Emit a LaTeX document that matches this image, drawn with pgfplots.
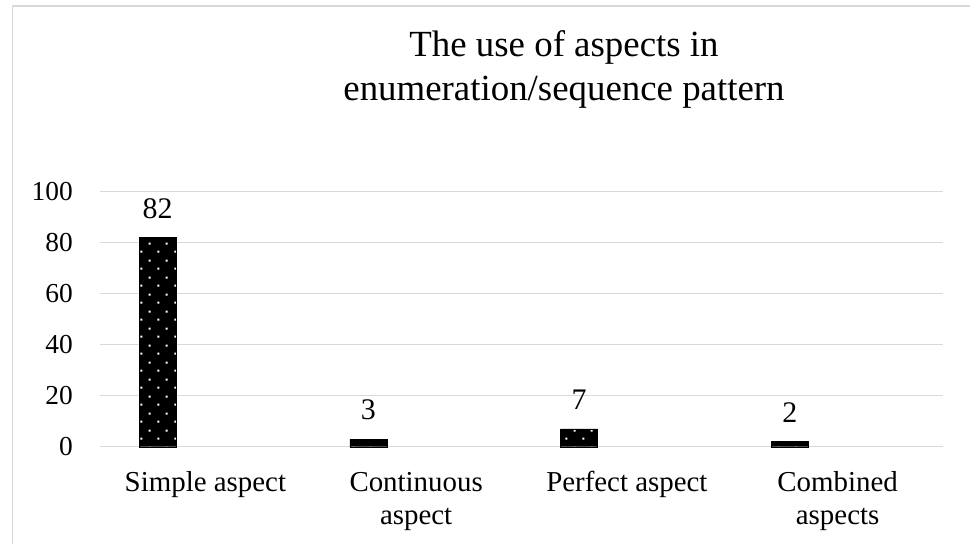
\documentclass[border=0pt]{standalone}
\usepackage{fontspec}
\setmainfont{Liberation Serif}
\usepackage{pgfplots}
\pgfplotsset{compat=1.18}
\usetikzlibrary{patterns}

\definecolor{gridgray}{HTML}{D9D9D9}

% staggered white dots on the black bars
\pgfdeclarepatternformonly{sdots}{\pgfpointorigin}{\pgfqpoint{17.3bp}{17bp}}{\pgfqpoint{17.3bp}{17bp}}{%
  \pgfpathrectangle{\pgfqpoint{2.5bp}{2.5bp}}{\pgfqpoint{2bp}{2bp}}%
  \pgfpathrectangle{\pgfqpoint{11.15bp}{11bp}}{\pgfqpoint{2bp}{2bp}}%
  \pgfusepath{fill}}

\begin{document}
\begin{tikzpicture}
\path[use as bounding box] (0,0) rectangle (970bp,544bp);
\draw[gridgray, line width=1.3bp] (12.7bp,0) -- (12.7bp,538bp) -- (970bp,538bp);

\begin{axis}[
  at={(100bp,97.3bp)}, anchor=south west, scale only axis,
  width=843bp, height=255bp,
  xmin=-0.5, xmax=3.5, ymin=0, ymax=100,
  ytick={0,20,...,100}, xtick={0,1,2,3},
  xticklabels={\strut Simple aspect, {\strut Continuous\\aspect}, \strut Perfect aspect, {\strut Combined\\aspects}},
  axis line style={draw=none}, major tick length=0pt,
  ymajorgrids, grid style={gridgray, line width=1.3bp},
  yticklabel style={font=\fontsize{27.5}{33}\selectfont, inner sep=0pt, anchor=east, xshift=-27bp},
  xticklabel style={font=\fontsize{29}{33.3}\selectfont, inner sep=0pt, align=center, anchor=north, yshift=-21bp},
  /pgf/number format/assume math mode=true,
  ybar, bar width=37bp, bar shift=-47.7bp,
  nodes near coords,
  nodes near coords style={font=\fontsize{30}{34}\selectfont, inner sep=0pt, anchor=base, yshift=19.3bp},
  clip=false,
]
\addplot[draw=black, fill=black, postaction={pattern=sdots, pattern color=white}]
  coordinates {(0,82) (1,3) (2,7) (3,2)};
\end{axis}

\node[font=\fontsize{37}{44}\selectfont, anchor=base] at (564bp,487.3bp) {The use of aspects in};
\node[font=\fontsize{37}{44}\selectfont, anchor=base] at (564bp,443.3bp) {enumeration/sequence pattern};
\end{tikzpicture}
\end{document}
